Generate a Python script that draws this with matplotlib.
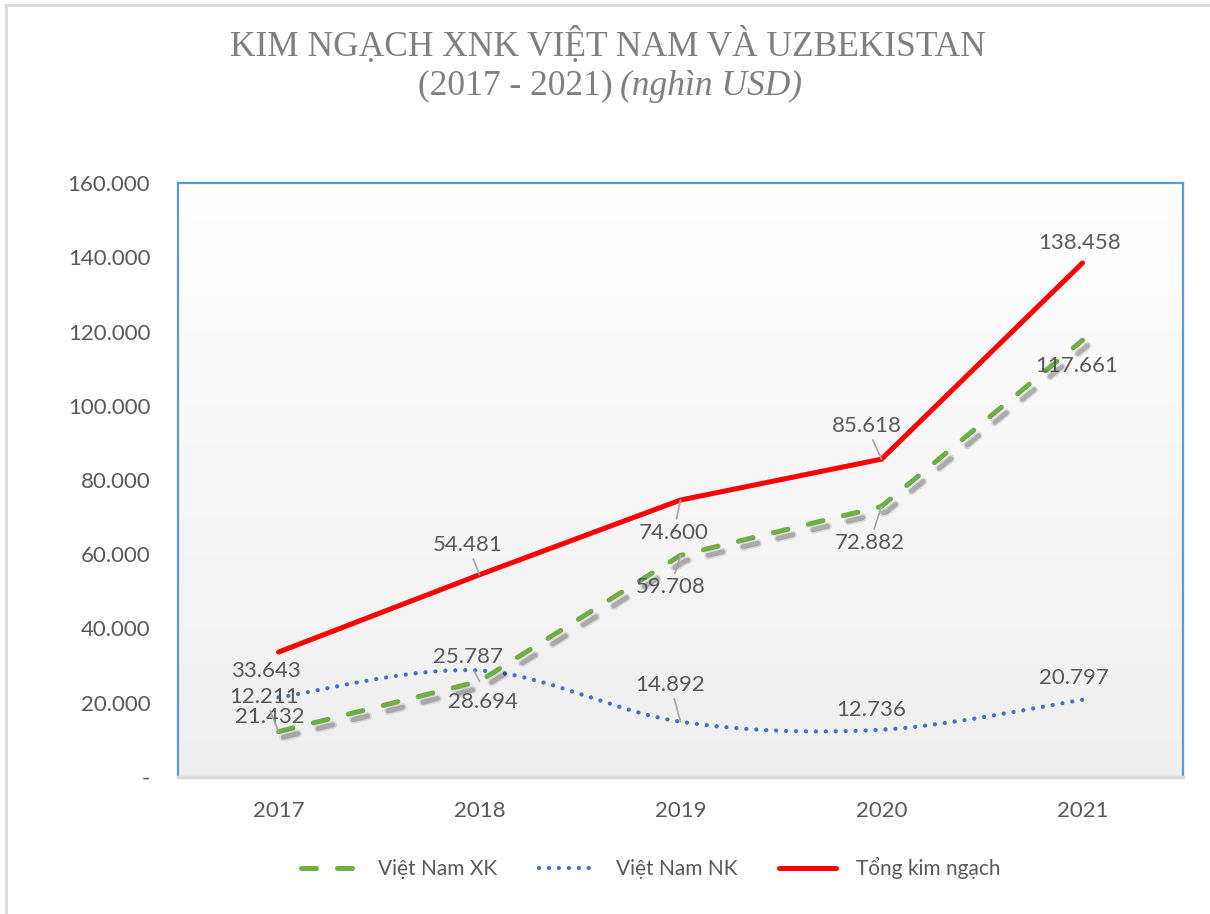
import matplotlib
matplotlib.use("Agg")
import matplotlib.pyplot as plt
import matplotlib.patheffects as pe
from matplotlib.lines import Line2D
import numpy as np

# data (nghin USD)
years = ["2017", "2018", "2019", "2020", "2021"]
xk = [12211, 25787, 59708, 72882, 117661]      # Viet Nam XK
nk = [21432, 28694, 14892, 12736, 20797]       # Viet Nam NK
tong = [33643, 54481, 74600, 85618, 138458]    # Tong kim ngach
yticks = [0, 20000, 40000, 60000, 80000, 100000, 120000, 140000, 160000]

W, H = 1210, 914
GREEN = "#70AD47"
BLUE = "#4472C4"
RED = "#FF0000"
GREY_TXT = "#595959"
NUMFONT = "Lato"
FS = 16


def fmt(v):
    if v == 0:
        return "-"
    return f"{v:,.0f}".replace(",", ".")


def smooth(xs, ys, n=40):
    # excel-like smoothed line (bezier through the points)
    P = np.column_stack([xs, ys]).astype(float)
    P = np.vstack([P[0], P, P[-1]])
    out = []
    t = np.linspace(0, 1, n)[:, None]
    for i in range(1, len(P) - 2):
        p0, p1, p2, p3 = P[i - 1], P[i], P[i + 1], P[i + 2]
        c1 = p1 + (p2 - p0) / 6
        c2 = p2 - (p3 - p1) / 6
        seg = (1 - t) ** 3 * p1 + 3 * (1 - t) ** 2 * t * c1 + 3 * (1 - t) * t ** 2 * c2 + t ** 3 * p2
        out.append(seg if i == 1 else seg[1:])
    return np.vstack(out)


fig = plt.figure(figsize=(W / 100, H / 100), dpi=100)
fig.patch.set_facecolor("white")

# outer chart frame (only left + top visible)
fig.add_artist(Line2D([6 / W, 6 / W], [0, 1 - 5 / H], transform=fig.transFigure, color="#d9d9d9", lw=2))
fig.add_artist(Line2D([6 / W, 1], [1 - 5 / H, 1 - 5 / H], transform=fig.transFigure, color="#d9d9d9", lw=2))

ax = fig.add_axes([178 / W, 1 - 777 / H, (1183 - 178) / W, (777 - 183) / H])
x = np.arange(len(years))

# gradient background
grad = np.linspace(0, 1, 256)[:, None]
cm = matplotlib.colors.LinearSegmentedColormap.from_list("g", ["#ffffff", "#efefef"])
ax.imshow(grad, extent=[0, 1, 0, 1], transform=ax.transAxes, cmap=cm,
          aspect="auto", origin="upper", zorder=0)

BLUE_LS = (0, (0.01, 2.3))
GREEN_LS = (0, (3, 4.2))

# blue NK (smoothed, dotted)
sm = smooth(x, nk)
ax.plot(sm[:, 0], sm[:, 1], color=BLUE, lw=3.1, linestyle=BLUE_LS, dash_capstyle="round", zorder=3)

# green XK (dashed w/ shadow)
ax.plot(x, xk, color=GREEN, lw=3.6, linestyle=GREEN_LS, dash_capstyle="round", zorder=4,
        path_effects=[pe.SimpleLineShadow(offset=(3.5, -4), shadow_color="k", alpha=0.10, linewidth=6),
                      pe.SimpleLineShadow(offset=(3.5, -4), shadow_color="k", alpha=0.22),
                      pe.Normal()])

# red total
ax.plot(x, tong, color=RED, lw=3.6, solid_capstyle="round", solid_joinstyle="round", zorder=5)

ax.set_xlim(-0.5, len(years) - 0.5)
ax.set_ylim(0, 160000)
ax.set_xticks(x)
ax.set_xticklabels(years)
ax.set_yticks(yticks)
ax.set_yticklabels([fmt(v) for v in yticks])
ax.tick_params(length=0, labelsize=FS, labelcolor=GREY_TXT)
ax.tick_params(axis="y", pad=20)
ax.tick_params(axis="x", pad=17)
for lab in ax.get_xticklabels() + ax.get_yticklabels():
    lab.set_fontfamily(NUMFONT)
for s in ["left", "top", "right"]:
    ax.spines[s].set_color("#5B9BD5")
    ax.spines[s].set_linewidth(1.6)
ax.spines["bottom"].set_color("#d9d9d9")
ax.spines["bottom"].set_linewidth(2.5)

# data labels: offsets in pixels, leader flag
lab_red = [(-13, -19, False), (-12, 30, True), (-7, -33, True), (-15, 33, True), (-3, 20, False)]
lab_green = [(-14, 35, True), (-12, 24, True), (-10, -32, True), (-12, -37, True), (-6, -26, False)]
lab_blue = [(-9, -20, False), (3, -32, False), (-10, 37, True), (-10, 20, False), (-9, 22, False)]

for vals, labs in [(nk, lab_blue), (xk, lab_green), (tong, lab_red)]:
    for i, (v, (dx, dy, lead)) in enumerate(zip(vals, labs)):
        kw = {}
        if lead:
            kw["arrowprops"] = dict(arrowstyle="-", color="#a6a6a6", lw=1.2, shrinkA=1, shrinkB=0)
        ax.annotate(fmt(v), xy=(x[i], v), xytext=(dx, dy), textcoords="offset pixels",
                    ha="center", va="center", fontsize=FS, color=GREY_TXT, family=NUMFONT,
                    zorder=6, **kw)

# title
TFS = 25.5
fig.text(608 / W, 1 - 46 / H, "KIM NGẠCH XNK VIỆT NAM VÀ UZBEKISTAN", ha="center", va="center",
         fontsize=TFS, family="Liberation Serif", color="#7f7f7f")
fig.text(613 / W, 1 - 86 / H, "(2017 - 2021)", ha="right", va="center",
         fontsize=TFS, family="Liberation Serif", color="#7f7f7f")
fig.text(620 / W, 1 - 86 / H, "(nghìn USD)", ha="left", va="center", style="italic",
         fontsize=TFS, family="Liberation Serif", color="#7f7f7f")

# legend
handles = [
    Line2D([], [], color=GREEN, lw=3.6, linestyle=GREEN_LS, dash_capstyle="round"),
    Line2D([], [], color=BLUE, lw=3.1, linestyle=BLUE_LS, dash_capstyle="round"),
    Line2D([], [], color=RED, lw=3.6, solid_capstyle="round"),
]
fig.legend(handles, ["Việt Nam XK", "Việt Nam NK", "Tổng kim ngạch"], loc="center",
           bbox_to_anchor=(651 / W, 1 - 868 / H), ncol=3, frameon=False,
           handlelength=2.7, handletextpad=1.0, columnspacing=2.0,
           prop={"family": NUMFONT, "size": 15}, labelcolor=GREY_TXT)

fig.savefig("out.png", dpi=100)
